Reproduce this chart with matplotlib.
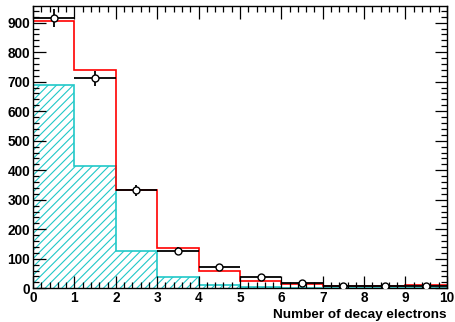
import numpy as np
import matplotlib
matplotlib.use("Agg")
import matplotlib.pyplot as plt
from matplotlib.ticker import MultipleLocator

plt.rcParams['font.family'] = ['Liberation Sans', 'DejaVu Sans']
plt.rcParams['font.weight'] = 'bold'
plt.rcParams['hatch.linewidth'] = 0.8
plt.rcParams['hatch.color'] = '#20c8c8'

# Bin edges: number of decay electrons, 0..10
edges = np.arange(0, 11)
centers = edges[:-1] + 0.5

# Total prediction (red), background component (cyan hatched), data (points)
total_pred = [907, 741, 332, 138, 60, 26, 14, 8, 8, 12]
background = [689, 414, 127, 37, 12, 5, 2, 1, 1, 1]
data_counts = [915, 711, 332, 128, 71, 37, 17, 8, 8, 9]

fig = plt.figure(figsize=(4.56, 3.22), dpi=100)
ax = fig.add_axes([0.0724, 0.1047, 0.9076, 0.8773])

ax.stairs(background, edges, fill=True, facecolor='none', edgecolor='#20c8c8',
          hatch='////', linewidth=0)
ax.stairs(background, edges, color='#20c8c8', linewidth=1.2, baseline=0)
ax.stairs(total_pred, edges, color='#ff0000', linewidth=1.2, baseline=None)

err = np.sqrt(data_counts)
ax.errorbar(centers, data_counts, yerr=err, xerr=0.5, fmt='o', color='black',
            mfc='white', mec='black', ms=5, mew=1.0, elinewidth=1.3,
            capsize=0, zorder=5)

ax.set_xlim(0, 10)
ax.set_ylim(0, 957)

ax.xaxis.set_major_locator(MultipleLocator(1))
ax.xaxis.set_minor_locator(MultipleLocator(0.2))
ax.yaxis.set_major_locator(MultipleLocator(100))
ax.yaxis.set_minor_locator(MultipleLocator(20))
ax.tick_params(which='both', direction='in', top=True, right=True,
               labelsize=9.8, width=0.9, pad=2)
ax.tick_params(which='major', length=9)
ax.tick_params(which='minor', length=4.5)
for s in ax.spines.values():
    s.set_linewidth(1.0)

ax.set_xlabel('Number of decay electrons', fontsize=9.7, fontweight='bold',
              loc='right', labelpad=2.5)

fig.savefig('out.png', dpi=100)
